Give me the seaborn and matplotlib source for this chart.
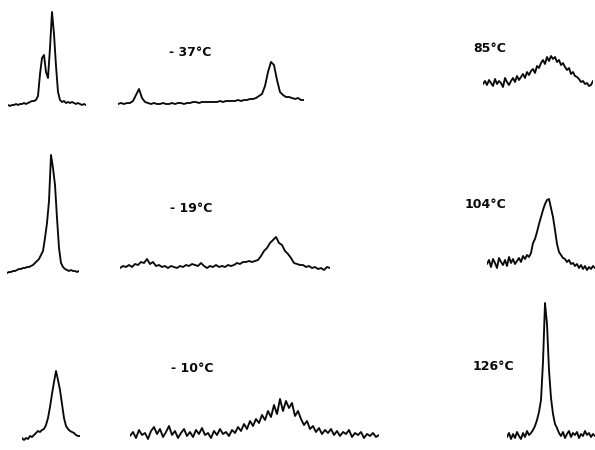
import numpy as np
import matplotlib
matplotlib.use("Agg")
import matplotlib.pyplot as plt
import seaborn as sns

# intensities (px above each trace's baseline)
spec_37_narrow = [1, 0, 1, 1, 2, 1, 2, 2, 3, 2, 3, 4, 5, 5, 6, 10, 32, 48, 51, 34,
                  28, 58, 94, 72, 40, 14, 6, 4, 5, 3, 4, 3, 4, 3, 2, 3, 2, 1, 2, 1]
spec_37_wide = [0, 1, 0, 1, 1, 3, 9, 15, 6, 2, 1, 0, 1, 0, 0, 1, 0, 0, 1, 0,
                1, 1, 0, 1, 1, 2, 2, 1, 2, 2, 2, 2, 2, 2, 3, 2, 3, 3, 3, 3,
                4, 3, 4, 4, 5, 5, 6, 8, 10, 18, 32, 42, 39, 24, 12, 9, 7, 7, 6, 5,
                6, 4, 4]
spec_19_narrow = [0, 1, 1, 2, 2, 3, 4, 4, 5, 5, 6, 6, 7, 8, 10, 12, 14, 18, 22, 35,
                  50, 72, 118, 105, 88, 55, 25, 10, 6, 4, 3, 2, 3, 2, 2, 1, 2]
spec_19_wide = [2, 4, 3, 5, 3, 6, 5, 8, 7, 11, 6, 8, 4, 5, 3, 4, 2, 4, 3, 2,
                4, 3, 5, 4, 6, 5, 4, 7, 4, 2, 4, 3, 5, 3, 4, 3, 5, 4, 5, 7,
                6, 8, 8, 9, 8, 9, 10, 14, 19, 22, 27, 30, 33, 27, 25, 19, 16, 12, 7, 6,
                5, 5, 3, 4, 2, 3, 1, 2, 0, 3, 2]
spec_10_narrow = [2, 0, 2, 1, 4, 3, 5, 7, 9, 8, 10, 11, 15, 22, 33, 46, 58, 69, 60, 50,
                  36, 22, 14, 11, 9, 8, 7, 5, 4, 4]
spec_10_wide = [5, 9, 3, 11, 6, 8, 2, 10, 14, 7, 12, 4, 9, 15, 6, 10, 3, 8, 12, 5,
                9, 4, 11, 7, 13, 6, 8, 3, 10, 6, 12, 7, 9, 5, 11, 8, 14,
                10, 17, 12, 20, 15, 22, 18, 26, 21, 30, 24, 36, 27, 42, 30, 40, 33, 38, 25, 30,
                22, 16, 20, 12, 15, 9, 13, 7, 11, 8, 12, 6, 10, 5, 9, 7, 11, 4, 8, 6,
                9, 3, 7, 5, 8, 4, 6]
spec_85 = [9, 12, 8, 13, 10, 7, 14, 9, 12, 10, 6, 15, 11, 8,
           12, 15, 11, 17, 13, 16, 19, 15, 21, 18, 22,
           24, 20, 27, 25, 30, 33, 29, 36, 32, 37, 34,
           36, 31, 33, 28, 30, 26, 23, 25, 19, 21, 17, 16,
           14, 11, 12, 9, 10, 7, 8, 12]
spec_104 = [8, 12, 5, 13, 9, 4, 14, 10, 7, 12, 6, 15, 9, 13, 8, 11, 14, 10, 16, 13,
            17, 15, 19, 29, 33, 40, 48, 55, 62, 68, 72, 73, 64, 55, 42, 28, 20, 17, 14,
            13, 10, 12, 8, 9, 6, 8, 4, 7, 3, 6, 2, 5, 3, 6, 4]
spec_126 = [5, 9, 3, 8, 4, 10, 6, 3, 9, 5, 11, 7,
            9, 12, 16, 22, 30, 42, 80, 139, 118, 72, 44, 28, 18, 14, 9,
            6, 10, 4, 8, 11, 5, 9, 7, 10, 4, 8, 6, 11, 7, 9, 5, 8, 6]

labels = ["- 37°C", "- 19°C", "- 10°C", "85°C", "104°C", "126°C"]

W, H = 595, 450
sns.set_style("white")
fig = plt.figure(figsize=(W / 100, H / 100), dpi=100)

# (values, left px, right px, baseline px)
traces = [
    (spec_37_narrow, 8, 86, 106),
    (spec_37_wide, 118, 304, 104),
    (spec_19_narrow, 7, 79, 273),
    (spec_19_wide, 120, 330, 270),
    (spec_10_narrow, 22, 80, 440),
    (spec_10_wide, 130, 379, 441),
    (spec_85, 483, 593, 93),
    (spec_104, 487, 595, 272),
    (spec_126, 507, 595, 442),
]

pad, top = 6, 150
for vals, x0, x1, base in traces:
    ax = fig.add_axes([x0 / W, (H - base - pad) / H, (x1 - x0) / W, (top + pad) / H])
    sns.lineplot(x=np.arange(len(vals)), y=vals, ax=ax, color="#0a0a0a", linewidth=1.35)
    ax.set_xlim(0, len(vals) - 1)
    ax.set_ylim(-pad, top)
    ax.axis("off")

label_pos = [(190, 53), (191, 208), (192, 368), (490, 48), (485, 204), (493, 366)]
for txt, (x, y) in zip(labels, label_pos):
    fig.text(x / W, 1 - y / H, txt, ha="center", va="center", fontsize=9,
             fontweight="bold", family=["Liberation Sans Narrow", "DejaVu Sans"],
             color="#0a0a0a")

fig.savefig("out.png", dpi=100, facecolor="white")
